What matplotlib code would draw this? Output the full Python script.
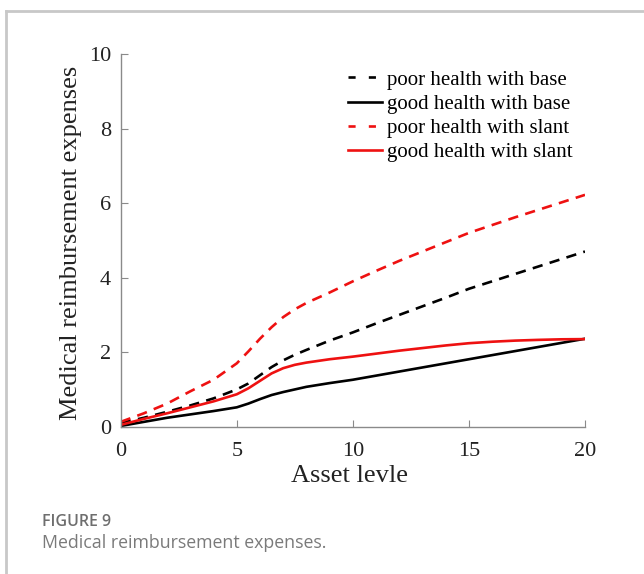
import numpy as np
import matplotlib.pyplot as plt
from matplotlib.lines import Line2D

asset = [0, 1, 2, 3, 4, 5, 5.5, 6, 6.5, 7, 7.5, 8,
         9, 10, 11, 12, 13, 14, 15, 16, 17, 18, 19, 20]

poor_base = [0.10, 0.24, 0.40, 0.57, 0.76, 1.00, 1.16, 1.38, 1.60, 1.78, 1.93, 2.06,
             2.31, 2.53, 2.77, 3.00, 3.23, 3.46, 3.70, 3.90, 4.10, 4.30, 4.50, 4.70]
good_base = [0.02, 0.13, 0.24, 0.33, 0.42, 0.52, 0.62, 0.74, 0.85, 0.93, 1.00, 1.07,
             1.17, 1.26, 1.37, 1.48, 1.59, 1.70, 1.81, 1.92, 2.03, 2.14, 2.25, 2.36]
poor_slant = [0.13, 0.36, 0.62, 0.95, 1.26, 1.70, 2.02, 2.36, 2.67, 2.94, 3.15, 3.32,
              3.60, 3.90, 4.18, 4.45, 4.70, 4.95, 5.20, 5.41, 5.62, 5.82, 6.02, 6.22]
good_slant = [0.05, 0.21, 0.36, 0.52, 0.68, 0.87, 1.03, 1.23, 1.43, 1.57, 1.66, 1.72,
              1.81, 1.88, 1.96, 2.04, 2.11, 2.18, 2.24, 2.28, 2.31, 2.33, 2.345, 2.35]

labels = ["poor health with base", "good health with base",
          "poor health with slant", "good health with slant"]

plt.rcParams['font.family'] = 'Liberation Serif'

fig = plt.figure(figsize=(6.44, 5.74), dpi=100)
ax = fig.add_axes([0.1874, 0.2566, 0.721, 0.6494])

lw = 1.9
red = '#ee1111'
dash = (0, (3.9, 2.8))
ax.plot(asset, poor_base, color='black', linestyle=dash, lw=lw)
ax.plot(asset, good_base, color='black', linestyle='-', lw=lw)
ax.plot(asset, poor_slant, color=red, linestyle=dash, lw=lw)
ax.plot(asset, good_slant, color=red, linestyle='-', lw=lw)

ax.set_xlim(0, 20)
ax.set_ylim(0, 10)
ax.set_xticks([0, 5, 10, 15, 20])
ax.set_yticks([0, 2, 4, 6, 8, 10])
for s in ['top', 'right']:
    ax.spines[s].set_visible(False)
for s in ['left', 'bottom']:
    ax.spines[s].set_color('#8a8a8a')
    ax.spines[s].set_linewidth(1.0)
ax.tick_params(direction='in', length=5, color='#8a8a8a', labelsize=16,
               labelcolor='#222222')
ax.tick_params(axis='x', pad=11)
ax.tick_params(axis='y', pad=7)
ax.set_xlabel("Asset levle", fontsize=19, color='#222222')
ax.set_ylabel("Medical reimbursement expenses", fontsize=19, color='#222222')
ax.xaxis.set_label_coords(0.493, -0.103)
ax.yaxis.set_label_coords(-0.083, 0.493)

# legend keys use a wider dash spacing
key_dash = (0, (2.7, 5.0))
handles = [Line2D([], [], color='black', linestyle=key_dash, lw=lw),
           Line2D([], [], color='black', linestyle='-', lw=lw),
           Line2D([], [], color=red, linestyle=key_dash, lw=lw),
           Line2D([], [], color=red, linestyle='-', lw=lw)]
ax.legend(handles, labels, loc='upper right', bbox_to_anchor=(1.0, 0.99),
          frameon=False, fontsize=15, handlelength=1.6, handletextpad=0.25,
          labelspacing=0.22, borderaxespad=0.2)

# panel border and caption
fig.add_artist(Line2D([0.010, 0.010], [0.0, 0.981], color='#c8c8c8', lw=2.0,
                      transform=fig.transFigure))
fig.add_artist(Line2D([0.010, 1.0], [0.981, 0.981], color='#c8c8c8', lw=2.0,
                      transform=fig.transFigure))
fig.text(0.065, 0.0836, "FIGURE 9", fontsize=11.5, color='#6e6e6e',
         family='Open Sans', weight='semibold', va='baseline')
fig.text(0.065, 0.0458, "Medical reimbursement expenses.", fontsize=12.8,
         color='#7a7a7a', family='Open Sans', va='baseline')

fig.savefig('out.png', dpi=100)
